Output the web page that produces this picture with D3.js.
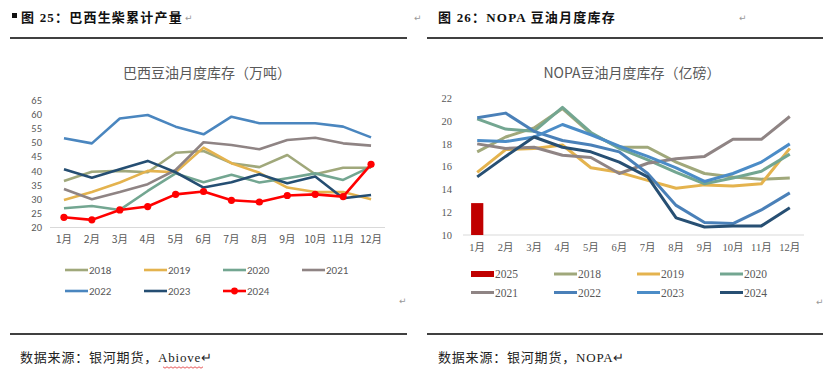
<!DOCTYPE html>
<html>
<head>
<meta charset="utf-8">
<script src="https://cdn.jsdelivr.net/npm/d3@7"></script>
<style>
  body { margin: 0; background: #fff; }
  svg { display: block; }
  .hd { font-family: "Liberation Serif", "Noto Sans CJK SC", serif; font-weight: bold; font-size: 13px; fill: #111; letter-spacing: 1.2px; }
  .src { font-family: "Liberation Serif", "Noto Sans CJK SC", serif; font-size: 13px; fill: #222; letter-spacing: 0.8px; }
  .ctitle { font-family: "Noto Sans CJK SC", "Noto Sans", sans-serif; font-size: 14px; fill: #595959; }
  .mark { font-family: "DejaVu Sans", sans-serif; font-size: 9px; fill: #999; }
</style>
</head>
<body>
<svg id="chart" width="824" height="378"></svg>
<script>
// months shared by both charts
var months = ["1月","2月","3月","4月","5月","6月","7月","8月","9月","10月","11月","12月"];

// Brazil soyoil stocks, 10k t (left chart)
var bzYears = ["2018","2019","2020","2021","2022","2023","2024"];
var bz2018 = [36.4, 39.7, 40.0, 39.5, 46.4, 47.0, 42.7, 41.3, 45.6, 38.8, 41.1, 41.1];
var bz2019 = [29.7, 32.5, 35.9, 40.0, 39.5, 48.2, 42.7, 39.3, 34.1, 32.5, 32.5, 30.0];
var bz2020 = [26.8, 27.6, 26.2, 32.9, 39.1, 36.0, 38.6, 35.9, 37.4, 39.1, 36.8, 41.5];
var bz2021 = [33.6, 30.0, 32.5, 35.3, 40.3, 50.1, 49.1, 47.6, 50.9, 51.7, 49.7, 48.9];
var bz2022 = [51.5, 49.7, 58.5, 59.7, 55.6, 52.9, 59.1, 56.8, 56.8, 56.8, 55.6, 51.8];
var bz2023 = [40.6, 37.6, 40.6, 43.5, 39.5, 34.1, 36.0, 38.8, 35.6, 38.0, 30.3, 31.5];
var bz2024 = [23.6, 22.7, 26.2, 27.4, 31.7, 32.7, 29.6, 29.0, 31.3, 31.7, 30.9, 42.3];
var bzTicks = [20, 25, 30, 35, 40, 45, 50, 55, 60, 65];

// NOPA soyoil stocks, 100m lbs (right chart)
var usYears = ["2018","2019","2020","2021","2022","2023","2024"];
var us2018 = [17.3, 18.6, 19.4, 21.1, 18.9, 17.7, 17.7, 16.4, 15.4, 15.1, 14.9, 15.0];
var us2019 = [15.5, 17.5, 17.6, 17.9, 15.9, 15.5, 14.8, 14.1, 14.4, 14.3, 14.5, 17.6];
var us2020 = [20.2, 19.3, 19.1, 21.2, 19.0, 17.6, 16.6, 15.5, 14.5, 15.0, 15.6, 17.1];
var us2021 = [18.0, 17.6, 17.7, 17.0, 16.8, 15.4, 16.3, 16.7, 16.9, 18.4, 18.4, 20.4];
var us2022 = [20.3, 20.7, 19.1, 18.3, 17.9, 17.3, 15.4, 12.6, 11.1, 11.0, 12.2, 13.7];
var us2023 = [18.3, 18.2, 18.6, 19.7, 18.8, 17.8, 16.9, 15.9, 14.7, 15.4, 16.4, 18.0];
var us2024 = [15.1, 16.9, 18.6, 17.7, 17.3, 16.4, 15.1, 11.5, 10.7, 10.8, 10.8, 12.4];
var us2025 = [12.8];
var usTicks = [10, 12, 14, 16, 18, 20, 22];

var bzColors = ["#a0a87b", "#e4b34e", "#73a691", "#8f8484", "#4a86bf", "#254e72", "#ff0000"];
var usColors = ["#a0a87b", "#e4b34e", "#73a691", "#8f8484", "#4a80b8", "#4b8cc7", "#274f73"];

var svg = d3.select("#chart");

// ---------- page furniture ----------
svg.append("rect").attr("x", 12).attr("y", 13).attr("width", 5).attr("height", 5).attr("fill", "#111");
svg.append("text").attr("class", "hd").attr("x", 21).attr("y", 22).text("图 25：巴西生柴累计产量");
svg.append("text").attr("class", "mark").attr("x", 185).attr("y", 21).text("↵");
svg.append("text").attr("class", "mark").attr("x", 414).attr("y", 21).text("↵");
svg.append("text").attr("class", "hd").attr("x", 438).attr("y", 22).text("图 26：NOPA 豆油月度库存");
svg.append("text").attr("class", "mark").attr("x", 739).attr("y", 21).text("↵");

[[10, 407], [427, 823]].forEach(function(r) {
  svg.append("line").attr("x1", r[0]).attr("x2", r[1]).attr("y1", 38).attr("y2", 38)
    .attr("stroke", "#000").attr("stroke-width", 1.3);
  svg.append("line").attr("x1", r[0]).attr("x2", r[1]).attr("y1", 334).attr("y2", 334)
    .attr("stroke", "#000").attr("stroke-width", 1.3);
});
svg.append("text").attr("class", "mark").attr("x", 399).attr("y", 304).text("↵");
svg.append("text").attr("class", "mark").attr("x", 816).attr("y", 305).text("↵");

svg.append("text").attr("class", "src").attr("x", 20).attr("y", 362).text("数据来源：银河期货，Abiove↵");
svg.append("text").attr("class", "src").attr("x", 438).attr("y", 362).text("数据来源：银河期货，NOPA↵");

// red squiggle under "Abiove"
var sq = [];
for (var i = 0; i <= 20; i++) sq.push([163 + i * 2, 367 + (i % 2 ? 1.2 : -0.2)]);
svg.append("path").attr("d", d3.line()(sq)).attr("fill", "none").attr("stroke", "#e03030").attr("stroke-width", 0.8);

// ---------- helpers ----------
function axes(g, x, y, ticks, yFont, xFont, labelX, labelDy) {
  g.append("line")
    .attr("x1", x.range()[0]).attr("x2", x.range()[1])
    .attr("y1", y.range()[0]).attr("y2", y.range()[0])
    .attr("stroke", "#d9d9d9").attr("stroke-width", 1);

  g.selectAll(".ytick").data(ticks).enter().append("text")
    .attr("x", labelX)
    .attr("y", function(d) { return y(d); })
    .attr("dy", "0.35em")
    .attr("text-anchor", "end")
    .attr("font-family", yFont).attr("font-size", 10.5).attr("fill", "#595959")
    .text(function(d) { return d; });

  g.selectAll(".xtick").data(months).enter().append("text")
    .attr("x", function(d) { return x(d) + x.bandwidth() / 2; })
    .attr("y", y.range()[0] + labelDy)
    .attr("text-anchor", "middle")
    .attr("font-family", xFont).attr("font-size", 10.5).attr("fill", "#595959")
    .text(function(d) { return d; });
}

function drawLine(g, x, y, vals, color, width) {
  var line = d3.line()
    .x(function(d, i) { return x(months[i]) + x.bandwidth() / 2; })
    .y(function(d) { return y(d); });
  g.append("path").datum(vals)
    .attr("d", line)
    .attr("fill", "none")
    .attr("stroke", color)
    .attr("stroke-width", width)
    .attr("stroke-linejoin", "round");
}

// ---------- left: Brazil ----------
var left = svg.append("g");
left.append("text").attr("class", "ctitle").attr("x", 207).attr("y", 78)
  .attr("text-anchor", "middle").text("巴西豆油月度库存（万吨）");

var xL = d3.scaleBand().domain(months).range([50, 385]);
var yL = d3.scaleLinear().domain([20, 65]).range([227.5, 100]);
axes(left, xL, yL, bzTicks, "Carlito, 'Liberation Sans', sans-serif", "'Noto Sans CJK SC', sans-serif", 42, 15);

var bzSeries = [bz2018, bz2019, bz2020, bz2021, bz2022, bz2023, bz2024];
bzSeries.forEach(function(s, k) { drawLine(left, xL, yL, s, bzColors[k], 2.6); });

left.selectAll(".dot").data(bz2024).enter().append("circle")
  .attr("cx", function(d, i) { return xL(months[i]) + xL.bandwidth() / 2; })
  .attr("cy", function(d) { return yL(d); })
  .attr("r", 3.6)
  .attr("fill", "#ff0000");

// legend (left)
bzYears.forEach(function(yr, k) {
  var lx = 65 + (k % 4) * 79, ly = 270 + Math.floor(k / 4) * 21;
  left.append("line").attr("x1", lx).attr("x2", lx + 23).attr("y1", ly).attr("y2", ly)
    .attr("stroke", bzColors[k]).attr("stroke-width", 2.6);
  if (yr === "2024") left.append("circle").attr("cx", lx + 11.5).attr("cy", ly).attr("r", 3.4).attr("fill", "#ff0000");
  left.append("text").attr("x", lx + 24).attr("y", ly).attr("dy", "0.35em")
    .attr("font-family", "Carlito, 'Liberation Sans', sans-serif").attr("font-size", 11).attr("fill", "#595959")
    .text(yr);
});

// ---------- right: NOPA ----------
var right = svg.append("g");
right.append("text").attr("class", "ctitle").attr("x", 632).attr("y", 78)
  .attr("text-anchor", "middle").text("NOPA豆油月度库存（亿磅）");

var xR = d3.scaleBand().domain(months).range([463, 804]).paddingInner(0.57).paddingOuter(0.285);
var xRL = d3.scaleBand().domain(months).range([463, 804]);
var yR = d3.scaleLinear().domain([10, 22]).range([235, 98.3]);
axes(right, xRL, yR, usTicks, "'Liberation Serif', serif", "'Liberation Serif', 'Noto Sans CJK SC', serif", 452, 16);

right.selectAll(".bar").data(us2025).enter().append("rect")
  .attr("x", function(d, i) { return xR(months[i]); })
  .attr("y", function(d) { return yR(d); })
  .attr("width", xR.bandwidth())
  .attr("height", function(d) { return yR(10) - yR(d); })
  .attr("fill", "#c00000");

var usSeries = [us2018, us2019, us2020, us2021, us2022, us2023, us2024];
usSeries.forEach(function(s, k) { drawLine(right, xRL, yR, s, usColors[k], 3); });

// legend (right)
var usLegend = ["2025"].concat(usYears);
var usLegendColors = ["#c00000"].concat(usColors);
usLegend.forEach(function(yr, k) {
  var lx = 471 + (k % 4) * 83, ly = 274 + Math.floor(k / 4) * 18.5;
  if (yr === "2025") {
    right.append("rect").attr("x", lx).attr("y", ly - 3).attr("width", 23).attr("height", 6).attr("fill", "#c00000");
  } else {
    right.append("line").attr("x1", lx).attr("x2", lx + 23).attr("y1", ly).attr("y2", ly)
      .attr("stroke", usLegendColors[k]).attr("stroke-width", 3);
  }
  right.append("text").attr("x", lx + 24).attr("y", ly).attr("dy", "0.35em")
    .attr("font-family", "'Liberation Serif', serif").attr("font-size", 11.5).attr("fill", "#595959")
    .text(yr);
});
</script>
</body>
</html>
